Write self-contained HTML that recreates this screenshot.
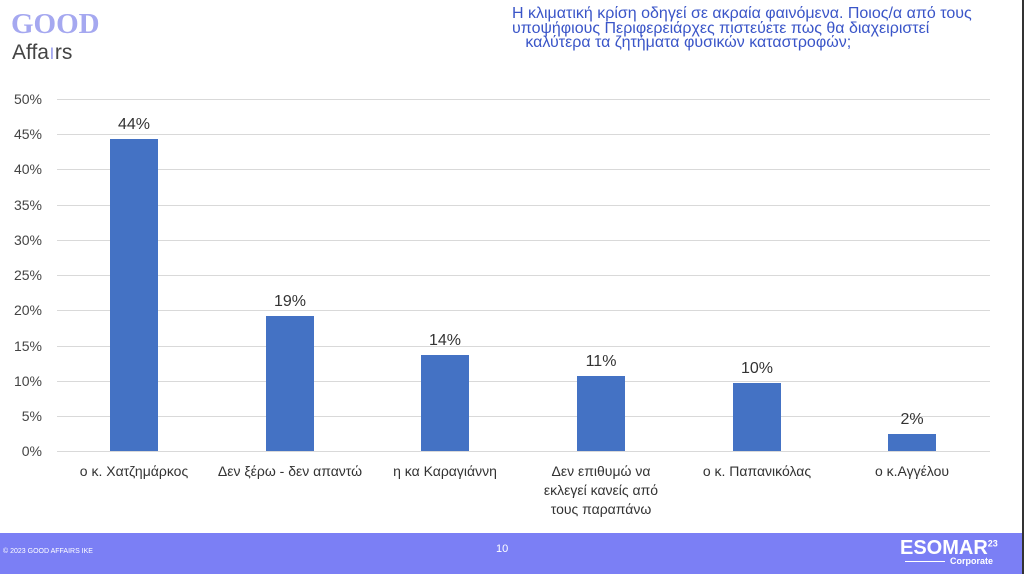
<!DOCTYPE html>
<html><head><meta charset="utf-8"><style>
body{margin:0;width:1024px;height:574px;background:#fff;position:relative;overflow:hidden;font-family:"Liberation Sans",sans-serif}
.a{position:absolute}
.yl{position:absolute;left:0;width:42px;text-align:right;font-size:14px;color:#444}
.g{position:absolute;left:57px;width:933px;height:1px;background:#d9d9d9}
.bar{position:absolute;width:48px;background:#4472c4}
.v{position:absolute;width:80px;text-align:center;font-size:16px;color:#333}
.c{position:absolute;width:150px;text-align:center;font-size:14px;color:#333;line-height:19px}
</style></head><body>
<div class="a" style="left:11px;top:8px;font-family:'Liberation Serif',serif;font-weight:bold;font-size:29px;color:#a5a8f0">GOOD</div>
<div class="a" style="left:12px;top:41px;font-size:21px;color:#444">Affa<span style="color:#a5a8f0">ı</span>rs</div>
<div class="a" style="left:512px;top:7px;width:480px;font-size:16px;line-height:14.5px;color:#3a55c8;white-space:nowrap">Η κλιματική κρίση οδηγεί σε ακραία φαινόμενα. Ποιος/α από τους<br>υποψήφιους Περιφερειάρχες πιστεύετε πως θα διαχειριστεί<br>&nbsp;&nbsp;&nbsp;καλύτερα τα ζητήματα φυσικών καταστροφών;</div>
<div class="g" style="top:99px"></div><div class="g" style="top:134px"></div><div class="g" style="top:169px"></div><div class="g" style="top:205px"></div><div class="g" style="top:240px"></div><div class="g" style="top:275px"></div><div class="g" style="top:310px"></div><div class="g" style="top:346px"></div><div class="g" style="top:381px"></div><div class="g" style="top:416px"></div><div class="g" style="top:451px"></div>
<div class="yl" style="top:91px">50%</div><div class="yl" style="top:126px">45%</div><div class="yl" style="top:161px">40%</div><div class="yl" style="top:197px">35%</div><div class="yl" style="top:232px">30%</div><div class="yl" style="top:267px">25%</div><div class="yl" style="top:302px">20%</div><div class="yl" style="top:338px">15%</div><div class="yl" style="top:373px">10%</div><div class="yl" style="top:408px">5%</div><div class="yl" style="top:443px">0%</div>
<div class="bar" style="left:110px;top:139px;height:312px"></div>
<div class="bar" style="left:266px;top:316px;height:135px"></div>
<div class="bar" style="left:421px;top:355px;height:96px"></div>
<div class="bar" style="left:577px;top:376px;height:75px"></div>
<div class="bar" style="left:733px;top:383px;height:68px"></div>
<div class="bar" style="left:888px;top:434px;height:17px"></div>
<div class="v" style="left:94px;top:116px">44%</div>
<div class="v" style="left:250px;top:293px">19%</div>
<div class="v" style="left:405px;top:332px">14%</div>
<div class="v" style="left:561px;top:353px">11%</div>
<div class="v" style="left:717px;top:360px">10%</div>
<div class="v" style="left:872px;top:411px">2%</div>
<div class="c" style="left:59px;top:462px">ο κ. Χατζημάρκος</div>
<div class="c" style="left:215px;top:462px">Δεν ξέρω - δεν απαντώ</div>
<div class="c" style="left:370px;top:462px">η κα Καραγιάννη</div>
<div class="c" style="left:526px;top:462px">Δεν επιθυμώ να<br>εκλεγεί κανείς από<br>τους παραπάνω</div>
<div class="c" style="left:682px;top:462px">ο κ. Παπανικόλας</div>
<div class="c" style="left:837px;top:462px">ο κ.Αγγέλου</div>
<div class="a" style="left:0;top:533px;width:1024px;height:41px;background:#7b7ff5"></div>
<div class="a" style="left:3px;top:548px;font-size:7px;color:#fff">© 2023 GOOD AFFAIRS IKE</div>
<div class="a" style="left:496px;top:543px;font-size:11px;color:#fff">10</div>
<div class="a" style="left:900px;top:537px;font-size:20px;font-weight:bold;color:#fff">ESOMAR<sup style="font-size:9px">23</sup></div>
<div class="a" style="left:905px;top:561px;width:40px;height:1px;background:#fff"></div>
<div class="a" style="left:950px;top:556px;font-size:9px;font-weight:bold;color:#fff">Corporate</div>
<div class="a" style="left:1022px;top:0;width:2px;height:574px;background:#333"></div>
</body></html>
